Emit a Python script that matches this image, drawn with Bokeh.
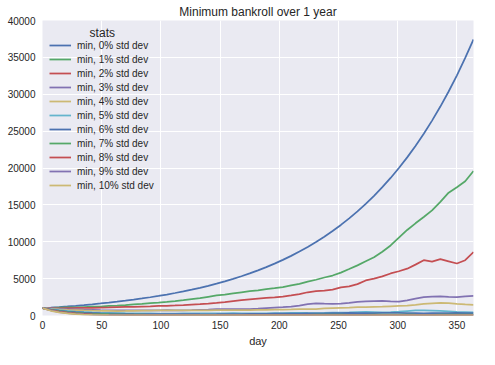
from bokeh.plotting import figure
from bokeh.models import Range1d, SingleIntervalTicker, Legend, LegendItem, Label
from bokeh.embed import file_html
from bokeh.resources import INLINE

days = [0, 7, 14, 21, 28, 35, 42, 49, 56, 63,
        70, 77, 84, 91, 98, 105, 112, 119, 126, 133,
        140, 147, 154, 161, 168, 175, 182, 189, 196, 203,
        210, 217, 224, 231, 238, 245, 252, 259, 266, 273,
        280, 287, 294, 301, 308, 315, 322, 329, 336, 343,
        350, 357, 364]

min_0 = [1000, 1072, 1149, 1232, 1321, 1417, 1519, 1629, 1746, 1872,
         2007, 2152, 2307, 2474, 2652, 2843, 3049, 3269, 3504, 3757,
         4028, 4319, 4631, 4965, 5323, 5707, 6119, 6560, 7033, 7541,
         8085, 8668, 9294, 9964, 10683, 11454, 12280, 13166, 14116, 15135,
         16226, 17397, 18652, 19998, 21441, 22988, 24647, 26425, 28332, 30376,
         32568, 34918, 37437]
min_1 = [1000, 1030, 1060, 1090, 1110, 1150, 1190, 1220, 1290, 1350,
         1420, 1500, 1580, 1680, 1760, 1850, 1950, 2080, 2220, 2360,
         2540, 2720, 2830, 2990, 3150, 3300, 3420, 3580, 3700, 3860,
         4080, 4300, 4600, 4850, 5150, 5420, 5820, 6300, 6800, 7350,
         7900, 8650, 9500, 10550, 11600, 12500, 13350, 14250, 15400, 16650,
         17400, 18200, 19600]
min_2 = [1000, 1010, 980, 1000, 1020, 1050, 1040, 1080, 1100, 1130,
         1160, 1180, 1220, 1250, 1290, 1320, 1360, 1420, 1490, 1550,
         1620, 1700, 1820, 1950, 2080, 2200, 2300, 2380, 2450, 2560,
         2720, 2900, 3150, 3300, 3380, 3500, 3820, 3950, 4250, 4750,
         5000, 5300, 5700, 6000, 6350, 6900, 7500, 7300, 7650, 7350,
         7050, 7500, 8600]
min_3 = [1000, 950, 900, 850, 820, 780, 760, 720, 700, 690,
         680, 700, 690, 680, 700, 720, 700, 690, 720, 760,
         800, 850, 880, 860, 850, 880, 920, 1000, 1080, 1130,
         1200, 1350, 1550, 1650, 1600, 1560, 1620, 1700, 1850, 1900,
         1950, 1980, 1900, 1870, 2050, 2300, 2500, 2550, 2580, 2520,
         2500, 2600, 2650]
min_4 = [1000, 900, 820, 760, 720, 680, 650, 630, 620, 610,
         620, 640, 650, 660, 680, 690, 700, 700, 690, 680,
         700, 720, 740, 730, 720, 730, 750, 760, 780, 800,
         820, 850, 870, 880, 950, 1000, 1050, 1080, 1120, 1150,
         1180, 1200, 1250, 1300, 1350, 1450, 1560, 1650, 1720, 1680,
         1580, 1500, 1440]
min_5 = [1000, 850, 720, 620, 540, 480, 430, 390, 360, 330,
         310, 300, 290, 280, 270, 260, 270, 280, 290, 300,
         290, 280, 300, 310, 300, 290, 280, 300, 320, 330,
         350, 360, 340, 330, 350, 380, 400, 420, 450, 480,
         460, 440, 470, 520, 600, 680, 700, 660, 620, 560,
         500, 460, 420]
min_6 = [1000, 800, 650, 530, 450, 390, 340, 300, 270, 250,
         230, 210, 200, 190, 180, 175, 170, 175, 180, 170,
         165, 170, 180, 190, 200, 210, 220, 230, 240, 250,
         260, 270, 280, 290, 300, 310, 320, 340, 330, 320,
         330, 340, 350, 340, 330, 320, 300, 310, 320, 330,
         340, 330, 320]
min_7 = [1000, 760, 580, 450, 360, 290, 240, 200, 170, 150,
         130, 120, 110, 100, 95, 90, 92, 88, 85, 90,
         95, 92, 88, 85, 90, 96, 100, 98, 94, 90,
         88, 92, 98, 105, 110, 108, 104, 100, 96, 100,
         106, 112, 118, 115, 110, 104, 100, 98, 102, 108,
         112, 110, 106]
min_8 = [1000, 720, 520, 380, 280, 210, 160, 120, 95, 75,
         60, 52, 48, 45, 42, 44, 46, 43, 40, 38,
         40, 42, 45, 47, 44, 42, 40, 43, 46, 48,
         50, 52, 49, 46, 44, 47, 50, 53, 55, 52,
         50, 48, 51, 54, 57, 55, 52, 50, 53, 56,
         58, 55, 52]
min_9 = [1000, 680, 470, 330, 230, 160, 115, 85, 62, 46,
         35, 30, 27, 25, 24, 23, 22, 23, 24, 22,
         21, 20, 21, 22, 23, 22, 21, 20, 21, 22,
         23, 24, 23, 22, 21, 22, 23, 24, 25, 24,
         23, 22, 23, 24, 25, 26, 25, 24, 23, 24,
         25, 26, 25]
min_10 = [1000, 640, 420, 280, 190, 130, 90, 62, 44, 31,
          22, 18, 15, 13, 12, 11, 11, 10, 10, 11,
          11, 10, 10, 9, 9, 10, 10, 11, 11, 10,
          10, 9, 9, 10, 10, 11, 11, 12, 12, 11,
          11, 10, 10, 11, 11, 12, 12, 11, 11, 12,
          12, 11, 11]

series = [min_0, min_1, min_2, min_3, min_4, min_5, min_6, min_7, min_8, min_9, min_10]
labels = ["min, %d%% std dev" % i for i in range(11)]
palette = ["#4C72B0", "#55A868", "#C44E52", "#8172B2", "#CCB974", "#64B5CD"]
x_ticks_interval = 50
y_ticks_interval = 5000

FONT = "Liberation Sans"
TXT = "#262626"

p = figure(width=479, height=349, output_backend="svg", toolbar_location=None,
           x_range=Range1d(0, 364), y_range=Range1d(0, 40000),
           title="Minimum bankroll over 1 year",
           min_border_left=42, min_border_right=6, min_border_top=13, min_border_bottom=0)
p.background_fill_color = "#EAEAF2"
p.border_fill_color = "white"
p.outline_line_color = None

p.title.align = "center"
p.title.text_font = FONT
p.title.text_font_size = "12px"
p.title.text_font_style = "normal"
p.title.text_color = TXT
p.title.standoff = 4
p.title.offset = 0

p.xaxis.ticker = SingleIntervalTicker(interval=x_ticks_interval, num_minor_ticks=0)
p.yaxis.ticker = SingleIntervalTicker(interval=y_ticks_interval, num_minor_ticks=0)
for ax in (p.xaxis, p.yaxis):
    ax.axis_line_color = None
    ax.major_tick_line_color = None
    ax.minor_tick_line_color = None
    ax.major_tick_in = 0
    ax.major_tick_out = 0
    ax.minor_tick_in = 0
    ax.minor_tick_out = 0
    ax.major_label_text_font = FONT
    ax.major_label_text_font_size = "10px"
    ax.major_label_text_color = TXT
p.xaxis.major_label_standoff = 5
p.yaxis.major_label_standoff = 7
p.xaxis.axis_label = "day"
p.xaxis.axis_label_text_font = FONT
p.xaxis.axis_label_text_font_size = "11px"
p.xaxis.axis_label_text_font_style = "normal"
p.xaxis.axis_label_text_color = TXT
p.xaxis.axis_label_standoff = 3

p.grid.grid_line_color = "white"
p.grid.grid_line_width = 1

items = []
for i, (vals, lab) in enumerate(zip(series, labels)):
    r = p.line(days, vals, line_color=palette[i % len(palette)], line_width=1.75)
    items.append(LegendItem(label=lab, renderers=[r]))

legend = Legend(items=items, location=(7, 124), background_fill_alpha=0,
                border_line_color=None, label_text_font=FONT, label_text_font_size="10px",
                label_text_color=TXT, glyph_width=22, glyph_height=12, label_height=12,
                spacing=2, padding=4, margin=0, label_standoff=6)
p.add_layout(legend)

p.add_layout(Label(x=50.5, y=38300, text="stats", text_font=FONT, text_font_size="12px",
                   text_color=TXT, text_align="center", text_baseline="middle"))

open("out.html", "w").write(file_html(p, INLINE))
